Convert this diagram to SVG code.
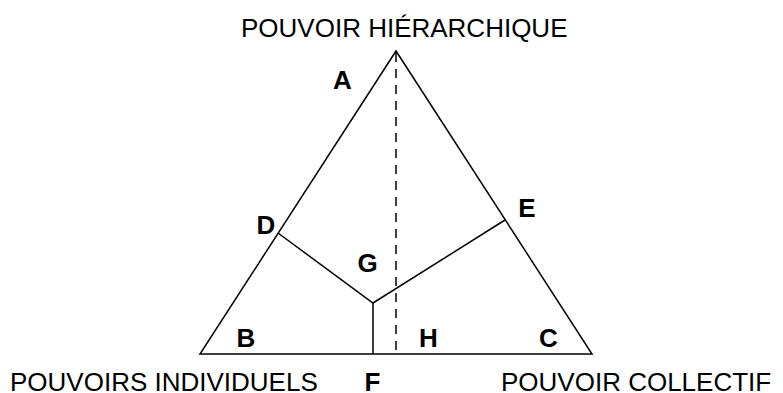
<svg xmlns="http://www.w3.org/2000/svg" width="783" height="393" viewBox="0 0 783 393">
<style>
.ln{stroke:#000;stroke-width:1.5;fill:none}
.dash{stroke:#000;stroke-width:1.5;stroke-dasharray:9 7;fill:none}
.lbl{font-family:"Liberation Sans",Arial,sans-serif;font-size:26px;font-weight:bold;text-anchor:middle;fill:#000}
.ttl{font-family:"Liberation Sans",Arial,sans-serif;font-size:26px;fill:#000}
</style>
<rect width="783" height="393" fill="#fff"/>
<g id="connectors">
<polygon class="ln" points="396,51 200,354 592,354"/>
<polyline class="ln" points="278,233 373,303 505,220"/>
<line class="ln" x1="373" y1="303" x2="373" y2="354"/>
<line class="dash" x1="396" y1="53" x2="396" y2="350"/>
</g>
<g id="title-top"><text class="ttl" x="241" y="37">POUVOIR HIÉRARCHIQUE</text></g>
<g id="title-left"><text class="ttl" x="10" y="391">POUVOIRS INDIVIDUELS</text></g>
<g id="title-right"><text class="ttl" x="501" y="391">POUVOIR COLLECTIF</text></g>
<g id="A"><text class="lbl" x="342.5" y="89">A</text></g>
<g id="B"><text class="lbl" x="246" y="347">B</text></g>
<g id="C"><text class="lbl" x="548.5" y="347">C</text></g>
<g id="D"><text class="lbl" x="266" y="234">D</text></g>
<g id="E"><text class="lbl" x="527" y="217">E</text></g>
<g id="F"><text class="lbl" x="372.5" y="391">F</text></g>
<g id="G"><text class="lbl" x="367.5" y="272">G</text></g>
<g id="H"><text class="lbl" x="428.5" y="347">H</text></g>
</svg>
